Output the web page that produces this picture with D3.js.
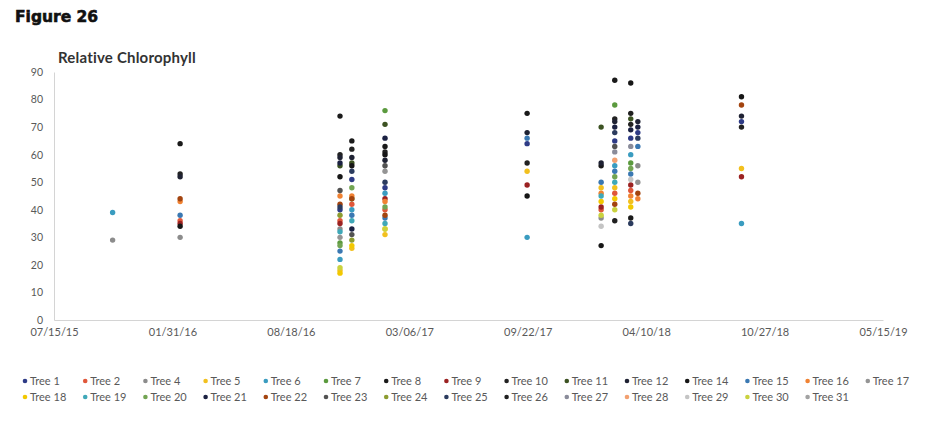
<!DOCTYPE html>
<html>
<head>
<meta charset="utf-8">
<script src="https://cdn.jsdelivr.net/npm/d3@7"></script>
<style>
  html, body { margin: 0; padding: 0; background: #ffffff; }
  svg { display: block; }
</style>
</head>
<body>
<svg id="chart" width="931" height="427"></svg>
<script>
// Sampling dates (m/d/y) of the chlorophyll readings
const sampleDates = ["10/22/15", "02/13/16", "11/09/16", "11/29/16", "01/24/17",
  "09/21/17", "01/24/18", "02/16/18", "03/15/18", "03/27/18", "09/18/18"];

// Tree names and their marker colours
const trees = ["Tree 1", "Tree 2", "Tree 4", "Tree 5", "Tree 6", "Tree 7", "Tree 8", "Tree 9",
  "Tree 10", "Tree 11", "Tree 12", "Tree 14", "Tree 15", "Tree 16", "Tree 17",
  "Tree 18", "Tree 19", "Tree 20", "Tree 21", "Tree 22", "Tree 23", "Tree 24",
  "Tree 25", "Tree 26", "Tree 27", "Tree 28", "Tree 29", "Tree 30", "Tree 31"];
const treeColors = ["#2e3b86", "#e0573a", "#8c8c8c", "#f2c01e", "#3a9cc0", "#5b9a3e", "#1a1a1a", "#9b2222",
  "#222222", "#3c5222", "#1f2233", "#161616", "#3a78b2", "#f08232", "#949494",
  "#f2c800", "#3fa8b8", "#72a452", "#1b2142", "#a3440f", "#525252", "#8c9c30",
  "#2b3b5e", "#202020", "#8a8c9a", "#f2a070", "#c4c4c4", "#cad23e", "#a2a2a2"];

// Relative chlorophyll per sampling date, in tree order (null = not measured)
const oct2015 = [null, null, 29, null, 39, null, null, null, null, null, null, null, null, null, null,
  null, null, null, null, null, null, null, null, null, null, null, null, null, null];
const feb2016 = [null, 36, 30, null, null, null, 64, 35, 53, null, 52, 34, 38, 43, null,
  null, null, null, null, 44, null, null, null, null, null, null, null, null, null];
const nov2016a = [40, 36, 33, 18, 22, 28, 74, 35, 60, 56, 59, 52, 25, 45, 30,
  17, 32, 27, 57, 42, 47, 38, 41, null, null, null, null, 19, null];
const nov2016b = [51, 42, null, 26, 40, 44, 65, null, 62, 57, 59, 56, 38, 45, null,
  27, 36, 48, 33, 44, 31, 29, 54, null, null, null, null, null, null];
const jan2017 = [48, 40, null, 31, 46, 76, 63, 44, 61, 71, 58, 60, 37, 43, 54,
  33, 35, 41, 66, 38, 56, null, 50, null, null, null, null, 33, null];
const sep2017 = [64, null, null, 54, 30, null, 75, 49, 57, null, 68, 45, 66, null, null,
  null, null, null, null, null, null, null, null, null, null, null, null, null, null];
const jan2018 = [null, 40, 37, 48, null, null, 56, 41, null, 70, 57, 27, 50, 46, null,
  43, 45, null, null, null, null, null, null, null, null, null, 34, 38, null];
const feb2018 = [65, 46, null, 48, 56, 78, 87, null, 73, null, 72, null, 54, null, null,
  44, 50, 52, 70, 42, 63, null, 68, 36, 61, 58, null, 40, null];
const mar2018a = [66, 47, null, 43, 60, 57, 37, 49, 71, 73, null, 86, 53, 45, null,
  41, null, 55, 69, null, null, null, 35, 75, 63, null, 51, null, null];
const mar2018b = [68, null, 56, null, null, null, null, null, null, null, 72, null, 63, 44, 50,
  null, null, null, 70, 46, null, null, 66, null, null, null, null, null, null];
const sep2018 = [72, null, null, 55, 35, null, null, 52, 70, null, 74, 81, null, null, null,
  null, null, null, null, 78, null, null, null, null, null, null, null, null, null];
const readings = [oct2015, feb2016, nov2016a, nov2016b, jan2017, sep2017,
  jan2018, feb2018, mar2018a, mar2018b, sep2018];

// Axis ticks
const xTickLabels = ["07/15/15", "01/31/16", "08/18/16", "03/06/17", "09/22/17", "04/10/18", "10/27/18", "05/15/19"];
const yTickValues = [0, 10, 20, 30, 40, 50, 60, 70, 80, 90];

const parse = d3.timeParse("%m/%d/%y");
const fmt = d3.timeFormat("%m/%d/%y");

const svg = d3.select("#chart");
const labelFont = "Lato, 'Open Sans', sans-serif";

const x = d3.scaleTime()
  .domain([parse(xTickLabels[0]), parse(xTickLabels[xTickLabels.length - 1])])
  .range([54, 883]);
const y = d3.scaleLinear().domain([0, 90]).range([320, 72]);

// Heading
svg.append("text")
  .attr("x", 15).attr("y", 22)
  .attr("font-family", "'DejaVu Sans', sans-serif").attr("font-weight", 700)
  .attr("font-size", 15.5).attr("fill", "#111")
  .attr("stroke", "#111").attr("stroke-width", 0.6)
  .text("Figure 26");

svg.append("text")
  .attr("x", 58).attr("y", 63)
  .attr("font-family", labelFont).attr("font-weight", 700)
  .attr("font-size", 15).attr("fill", "#333")
  .attr("letter-spacing", 0.2)
  .text("Relative Chlorophyll");

// Y axis
const yAxis = svg.append("g")
  .attr("transform", "translate(54,0)")
  .call(d3.axisLeft(y).tickValues(yTickValues).tickSize(0).tickPadding(11));
yAxis.select(".domain").attr("stroke", "#d4d4d4");
yAxis.selectAll("text")
  .attr("font-family", labelFont).attr("font-size", 10.5).attr("fill", "#595959");

// X axis
const xAxis = svg.append("g")
  .attr("transform", "translate(0,320)")
  .call(d3.axisBottom(x).tickValues(xTickLabels.map(parse)).tickFormat(fmt).tickSize(0).tickPadding(8));
xAxis.select(".domain").attr("stroke", "#d4d4d4");
xAxis.selectAll("text")
  .attr("font-family", labelFont).attr("font-size", 11).attr("fill", "#595959");

// Points
const points = [];
readings.forEach((col, di) => {
  col.forEach((v, ti) => {
    if (v !== null) points.push({ date: parse(sampleDates[di]), value: v, tree: ti });
  });
});

svg.append("g").selectAll("circle")
  .data(points)
  .join("circle")
  .attr("cx", d => x(d.date))
  .attr("cy", d => y(d.value))
  .attr("r", 2.7)
  .attr("fill", d => treeColors[d.tree]);

// Legend: two rows
const perRow = 15;
const legend = svg.append("g");
trees.forEach((name, i) => {
  const row = Math.floor(i / perRow);
  const col = i % perRow;
  const gx = 25 + col * 60.2;
  const gy = 381 + row * 16;
  legend.append("circle")
    .attr("cx", gx).attr("cy", gy).attr("r", 2.3)
    .attr("fill", treeColors[i]);
  legend.append("text")
    .attr("x", gx + 5).attr("y", gy)
    .attr("dy", "0.35em")
    .attr("font-family", labelFont).attr("font-size", 11).attr("fill", "#595959")
    .text(name);
});
</script>
</body>
</html>
